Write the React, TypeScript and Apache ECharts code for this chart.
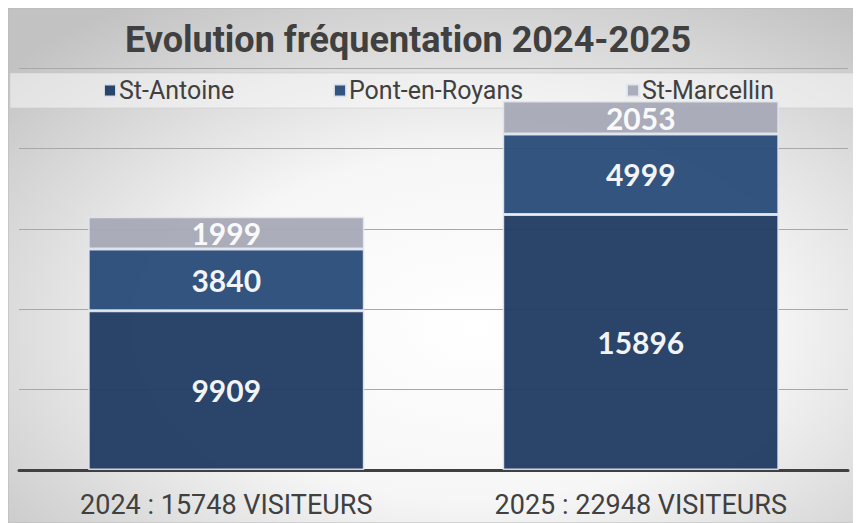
import React, { useEffect, useRef } from "react";
import * as echarts from "echarts";

const years = ["2024", "2025"];
const seriesNames = ["St-Antoine", "Pont-en-Royans", "St-Marcellin"];
const stAntoine = [9909, 15896];
const pontEnRoyans = [3840, 4999];
const stMarcellin = [1999, 2053];
const seriesColors = ["#203a62", "#284b78", "#a6aab6"];
const titleText = "Evolution fréquentation 2024-2025";

export default function App() {
  const ref = useRef<HTMLDivElement>(null);
  useEffect(() => {
    if (!ref.current) return;
    const chart = echarts.init(ref.current, null, { renderer: "svg" });
    const values = [stAntoine, pontEnRoyans, stMarcellin];
    const categories = years.map((y, i) => {
      const total = values.reduce((s, arr) => s + arr[i], 0);
      return `${y} : ${total} VISITEURS`;
    });
    const legendLefts = [95, 325, 618];
    chart.setOption({
      animation: false,
      graphic: [
        {
          type: "rect",
          z: -10,
          silent: true,
          shape: { x: 0, y: 0, width: 853, height: 515 },
          style: {
            fill: new echarts.graphic.RadialGradient(0.55, 0.62, 0.75, [
              { offset: 0, color: "#ffffff" },
              { offset: 0.45, color: "#f6f6f6" },
              { offset: 1, color: "#c2c2c2" },
            ]),
            stroke: "#b8b8b8",
            lineWidth: 1,
          },
        },
        {
          type: "rect",
          z: -9,
          silent: true,
          shape: { x: 2, y: 65, width: 851, height: 35 },
          style: { fill: "rgba(250,250,250,0.55)", stroke: "rgba(200,200,200,0.5)", lineWidth: 1 },
        },
      ],
      title: {
        text: titleText,
        left: 395,
        top: 9,
        textAlign: "center",
        textStyle: { fontFamily: "Roboto", fontWeight: "bold", fontSize: 36, color: "#404040" },
      },
      legend: seriesNames.map((n, i) => ({
        data: [n],
        left: legendLefts[i],
        top: 70,
        padding: 0,
        itemWidth: 12,
        itemHeight: 12,
        itemGap: 4,
        icon: "rect",
        textStyle: { fontFamily: "Roboto", fontSize: 25, color: "#404040", padding: [0, 0, 0, -2] },
      })),
      grid: { left: 11, right: 13, top: 60, bottom: 53 },
      xAxis: {
        type: "category",
        data: categories,
        axisLine: { lineStyle: { color: "#404040", width: 3 } },
        axisTick: { show: false },
        axisLabel: { fontFamily: "Roboto", fontSize: 27, color: "#404040", margin: 21 },
      },
      yAxis: {
        type: "value",
        min: 0,
        max: 25000,
        interval: 5000,
        axisLabel: { show: false },
        axisLine: { show: false },
        axisTick: { show: false },
        splitLine: { lineStyle: { color: "#a8a8a8", width: 1 } },
      },
      series: seriesNames.map((n, i) => ({
        name: n,
        type: "bar",
        stack: "total",
        data: values[i],
        barCategoryGap: "33.4%",
        itemStyle: {
          color: seriesColors[i],
          opacity: 0.95,
          borderColor: "rgba(225,230,238,0.95)",
          borderWidth: 1.5,
        },
        label: {
          show: true,
          position: "inside",
          color: "#ffffff",
          fontFamily: "Lato",
          fontWeight: "bold",
          fontSize: 30,
        },
      })),
    });
    return () => chart.dispose();
  }, []);
  return <div ref={ref} style={{ width: 853, height: 515 }} />;
}
